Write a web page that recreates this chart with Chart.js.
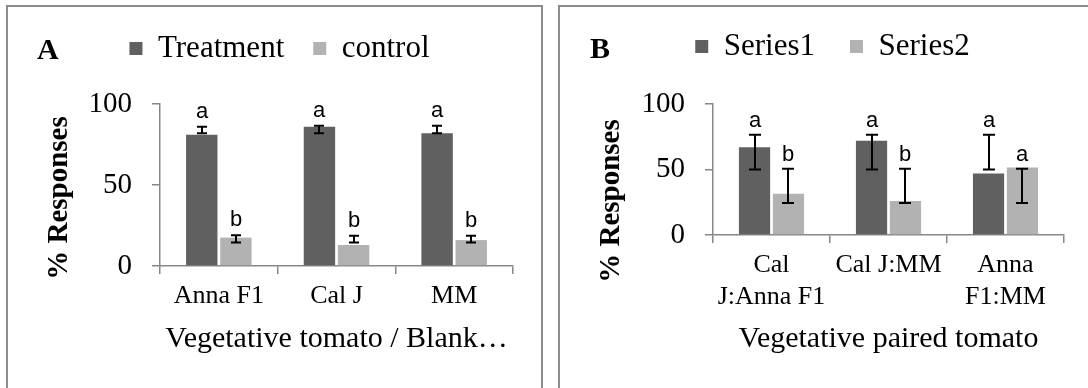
<!DOCTYPE html>
<html>
<head>
<meta charset="utf-8">
<script src="https://cdn.jsdelivr.net/npm/chart.js@4.4.1/dist/chart.umd.min.js"></script>
<style>
  html, body { margin: 0; padding: 0; background: #fff; overflow: hidden; width: 1088px; height: 388px; }
  .panel { position: absolute; top: 5px; height: 440px; border: 2px solid #8c8c8c; box-sizing: border-box; background: #fff; }
  #boxA { left: 6px; width: 537px; }
  #boxB { left: 558px; width: 600px; }
  .wrap { position: absolute; left: 0; top: 0; height: 381px; }
  #wrapA { width: 533px; }
  #wrapB { width: 528px; }
</style>
</head>
<body>
<div class="panel" id="boxA"><div class="wrap" id="wrapA"><canvas id="chartA"></canvas></div></div>
<div class="panel" id="boxB"><div class="wrap" id="wrapB"><canvas id="chartB"></canvas></div></div>
<script>
// panel A
const catsA = ["Anna F1", "Cal J", "MM"];
const treatment = [81, 86, 82];
const control = [17.5, 13, 16];
const treatmentErrLow = [82, 82, 82];
const treatmentErrHigh = [86, 86.5, 86.5];
const controlErrLow = [14.5, 14.5, 14.5];
const controlErrHigh = [19, 18.7, 18.7];
const treatmentLetters = ["a", "a", "a"];
const controlLetters = ["b", "b", "b"];

// panel B
const catsB = [["Cal", "J:Anna F1"], "Cal J:MM", ["Anna", "F1:MM"]];
const series1 = [67, 72, 47];
const series2 = [31.5, 26, 51.5];
const series1ErrLow = [50, 50, 50];
const series1ErrHigh = [76.5, 76.5, 76.5];
const series2ErrLow = [24.5, 24.5, 24.5];
const series2ErrHigh = [50.5, 50.5, 50.5];
const series1Letters = ["a", "a", "a"];
const series2Letters = ["b", "b", "a"];

const yTicks = [0, 50, 100];

const serif = "'Liberation Serif', 'Times New Roman', serif";
const dark = '#606060';
const light = '#b2b2b2';
const axisGray = '#878787';

// error bars + significance letters, placed with the chart's own scales
const errorBars = {
  id: 'errorBars',
  afterDatasetsDraw(chart, args, opts) {
    const ctx = chart.ctx;
    const y = chart.scales.y;
    ctx.save();
    chart.data.datasets.forEach((ds, di) => {
      chart.getDatasetMeta(di).data.forEach((bar, i) => {
        const x = Math.round(bar.x);
        const top = y.getPixelForValue(ds.errHigh[i]);
        const bot = y.getPixelForValue(ds.errLow[i]);
        ctx.strokeStyle = '#000';
        ctx.lineWidth = 2;
        ctx.beginPath();
        ctx.moveTo(x, top); ctx.lineTo(x, bot);
        ctx.moveTo(x - opts.cap, top); ctx.lineTo(x + opts.cap, top);
        ctx.moveTo(x - opts.cap, bot); ctx.lineTo(x + opts.cap, bot);
        ctx.stroke();
        ctx.fillStyle = '#000';
        ctx.font = "22px 'Liberation Sans', Arial, sans-serif";
        ctx.textAlign = 'center';
        ctx.textBaseline = 'alphabetic';
        ctx.fillText(ds.letters[i], x, top - opts.gap);
      });
    });
    ctx.restore();
  }
};

// panel letter and rotated y title
const panelText = {
  id: 'panelText',
  afterDraw(chart, args, opts) {
    const ctx = chart.ctx;
    ctx.save();
    ctx.fillStyle = '#000';
    ctx.font = 'bold 30px ' + serif;
    ctx.textAlign = 'left';
    ctx.textBaseline = 'alphabetic';
    ctx.fillText(opts.label, opts.labelX, opts.labelY);
    ctx.translate(opts.titleX, opts.titleY);
    ctx.rotate(-Math.PI / 2);
    ctx.font = 'bold 29px ' + serif;
    ctx.textAlign = 'center';
    ctx.fillText(opts.yTitle, 0, 0);
    ctx.restore();
  }
};

// extra room under the legend
const legendGap = {
  id: 'legendGap',
  beforeUpdate(chart, args, opts) {
    const lg = chart.legend;
    if (lg && !lg._gapPatched) {
      const fit = lg.fit;
      lg.fit = function () { fit.call(this); this.height += opts.extra; };
      lg._gapPatched = true;
    }
  }
};

function makeChart(id, cfg) {
  return new Chart(document.getElementById(id), {
    type: 'bar',
    data: {
      labels: cfg.labels,
      datasets: cfg.datasets.map((d, i) => ({
        label: d.label,
        data: d.data,
        errLow: d.errLow,
        errHigh: d.errHigh,
        letters: d.letters,
        backgroundColor: i === 0 ? dark : light,
        borderWidth: 0,
        categoryPercentage: 0.58,
        barPercentage: 0.92
      }))
    },
    options: {
      responsive: true,
      maintainAspectRatio: false,
      animation: false,
      layout: { padding: cfg.padding },
      plugins: {
        legend: {
          position: 'top',
          labels: {
            font: { family: serif, size: 31 },
            color: '#000',
            boxWidth: 13,
            boxHeight: 13,
            padding: cfg.legendPadding
          }
        },
        tooltip: { enabled: false },
        legendGap: { extra: cfg.legendExtra },
        errorBars: { cap: cfg.cap, gap: cfg.letterGap },
        panelText: cfg.text
      },
      scales: {
        x: {
          grid: { offset: true, drawOnChartArea: false, tickLength: 8, color: axisGray, lineWidth: 1.5 },
          border: { color: axisGray, width: 1.5 },
          ticks: { font: { family: serif, size: 26 }, color: '#000', padding: 7, maxRotation: 0, autoSkip: false },
          title: {
            display: true,
            text: cfg.xTitle,
            font: { family: serif, size: 30 },
            color: '#000',
            padding: { top: 0, bottom: 31 }
          },
          afterFit(s) { s.height = cfg.xHeight; }
        },
        y: {
          min: 0,
          max: 100,
          afterBuildTicks(s) { s.ticks = yTicks.map(v => ({ value: v })); },
          ticks: { font: { family: serif, size: 29 }, color: '#000', padding: 20 },
          grid: { drawOnChartArea: false, tickLength: 8, color: axisGray, lineWidth: 1.5 },
          border: { color: axisGray, width: 1.5 },
          afterFit(s) { s.width = cfg.yWidth; }
        }
      }
    },
    plugins: [legendGap, errorBars, panelText]
  });
}

makeChart('chartA', {
  labels: catsA,
  datasets: [
    { label: 'Treatment', data: treatment, errLow: treatmentErrLow, errHigh: treatmentErrHigh, letters: treatmentLetters },
    { label: 'control', data: control, errLow: controlErrLow, errHigh: controlErrHigh, letters: controlLetters }
  ],
  padding: { left: 38, right: 28, top: -3, bottom: 0 },
  legendPadding: 29,
  legendExtra: 30,
  cap: 5,
  letterGap: 9,
  xTitle: 'Vegetative tomato / Blank…',
  xHeight: 122,
  yWidth: 114,
  text: { label: 'A', labelX: 29, labelY: 52, yTitle: '% Responses', titleX: 59, titleY: 191 }
});

makeChart('chartB', {
  labels: catsB,
  datasets: [
    { label: 'Series1', data: series1, errLow: series1ErrLow, errHigh: series1ErrHigh, letters: series1Letters },
    { label: 'Series2', data: series2, errLow: series2ErrLow, errHigh: series2ErrHigh, letters: series2Letters }
  ],
  padding: { left: 41, right: 24, top: -11, bottom: 0 },
  legendPadding: 35,
  legendExtra: 32,
  cap: 6,
  letterGap: 8,
  xTitle: 'Vegetative paired tomato',
  xHeight: 153,
  yWidth: 112,
  text: { label: 'B', labelX: 30, labelY: 51, yTitle: '% Responses', titleX: 59, titleY: 194 }
});
</script>
</body>
</html>
